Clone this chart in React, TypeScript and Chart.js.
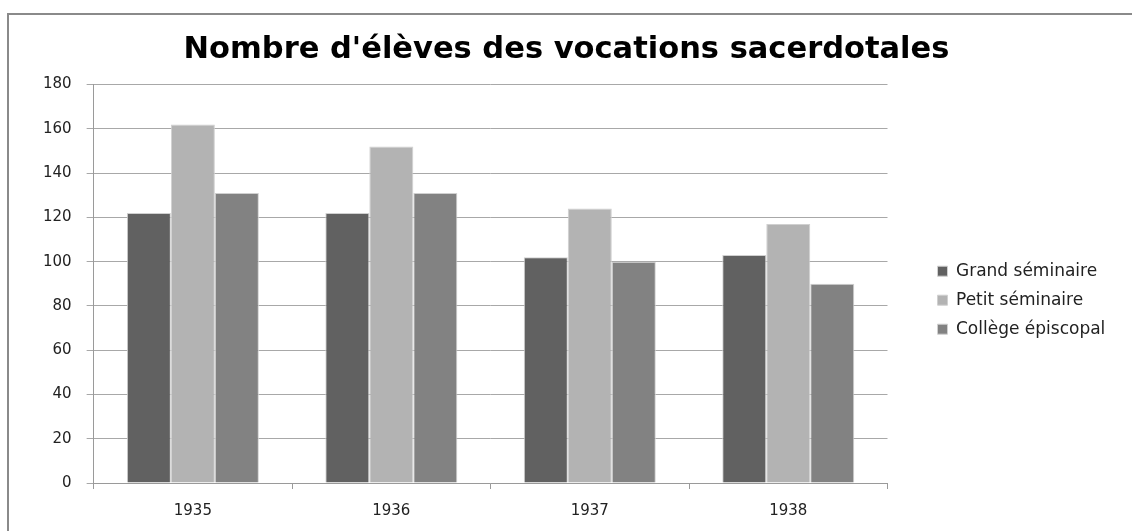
import React, { useEffect, useRef } from "react";
import { Chart, registerables } from "chart.js";

Chart.register(...registerables);

const TITLE = "Nombre d'élèves des vocations sacerdotales";
const years = ["1935", "1936", "1937", "1938"];
const seriesNames = ["Grand séminaire", "Petit séminaire", "Collège épiscopal"];
const grandSeminaire = [122, 122, 102, 103];
const petitSeminaire = [162, 152, 124, 117];
const collegeEpiscopal = [131, 131, 100, 90];
const seriesColors = ["#616161", "#b3b3b3", "#828282"];
const yMin = 0;
const yMax = 180;
const yStep = 20;

const FONT = "'DejaVu Sans', sans-serif";

export default function App() {
  const ref = useRef<HTMLCanvasElement | null>(null);

  useEffect(() => {
    if (!ref.current) return;
    const values = [grandSeminaire, petitSeminaire, collegeEpiscopal];
    const chart = new Chart(ref.current, {
      type: "bar",
      data: {
        labels: years,
        datasets: seriesNames.map((name, i) => ({
          label: name,
          data: values[i],
          backgroundColor: seriesColors[i],
          borderColor: "#d0d0d0",
          borderWidth: 1,
          categoryPercentage: 0.665,
          barPercentage: 1,
        })),
      },
      options: {
        animation: false,
        responsive: false,
        layout: { padding: { left: 28, right: 27, top: 0, bottom: -2 } },
        plugins: {
          title: {
            display: true,
            text: TITLE,
            color: "#000",
            font: { family: FONT, size: 30.5, weight: "bold" },
            padding: { top: 32, bottom: 16 },
          },
          legend: {
            position: "right",
            title: {
              display: true,
              text: " ",
              font: { family: FONT, size: 12 },
              padding: { top: 53, bottom: 0 },
            },
            labels: {
              boxWidth: 10,
              boxHeight: 10,
              padding: 12,
              color: "#222",
              font: { family: FONT, size: 17 },
            },
          },
          tooltip: { enabled: false },
        },
        scales: {
          x: {
            grid: {
              display: true,
              drawOnChartArea: false,
              drawTicks: true,
              tickLength: 6,
              color: "#9a9a9a",
            },
            border: { display: true, color: "#9a9a9a", width: 1 },
            ticks: {
              color: "#222",
              padding: 13,
              font: { family: FONT, size: 15 },
            },
          },
          y: {
            min: yMin,
            max: yMax,
            grid: {
              color: "#a8a8a8",
              drawTicks: true,
              tickLength: 7,
            },
            border: { display: true, color: "#9a9a9a", width: 1 },
            ticks: {
              stepSize: yStep,
              color: "#222",
              padding: 15,
              font: { family: FONT, size: 15 },
            },
          },
          gap: {
            type: "linear",
            position: "right",
            display: true,
            grid: { display: false, drawTicks: false },
            border: { display: false },
            ticks: { display: false },
            afterFit: (s: any) => {
              s.width = 38;
            },
          } as any,
        },
      },
    });
    return () => chart.destroy();
  }, []);

  return (
    <div
      style={{
        position: "absolute",
        left: 0,
        top: 0,
        width: 1132,
        height: 531,
        overflow: "hidden",
        background: "#fff",
      }}
    >
      <canvas ref={ref} width={1132} height={531} style={{ position: "absolute", left: 0, top: 0 }} />
      <div
        style={{
          position: "absolute",
          left: 7,
          top: 13,
          width: 1200,
          height: 600,
          borderTop: "2px solid #8a8a8a",
          borderLeft: "2px solid #8a8a8a",
          pointerEvents: "none",
        }}
      />
    </div>
  );
}
